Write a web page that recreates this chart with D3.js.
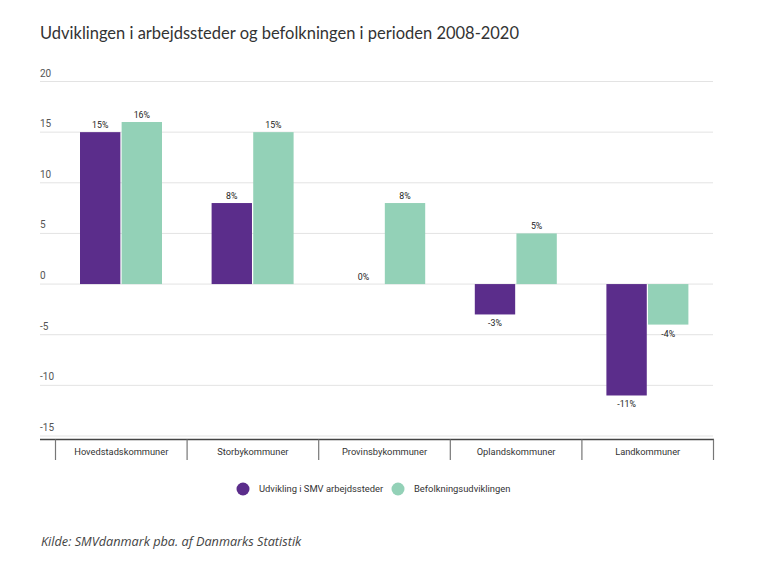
<!DOCTYPE html>
<html><head><meta charset="utf-8">
<script src="https://cdn.jsdelivr.net/npm/d3@7"></script>
<style>body{margin:0;background:#fff}</style>
</head><body>
<svg id="c" width="758" height="568"></svg>
<script>
const categories = ["Hovedstadskommuner","Storbykommuner","Provinsbykommuner","Oplandskommuner","Landkommuner"];
const smvValues = [15, 8, 0, -3, -11];
const befValues = [16, 15, 8, 5, -4];
const seriesNames = ["Udvikling i SMV arbejdssteder","Befolkningsudviklingen"];
const yTicks = [20, 15, 10, 5, 0, -5, -10, -15];

const svg = d3.select("#c");
const colors = ["#5b2d8b", "#93d1b7"];
const y = d3.scaleLinear().domain([-15, 20]).range([436, 81.5]);
const x = d3.scaleBand().domain(categories).range([55.5, 713.5]).paddingInner(0).paddingOuter(0);
const xs = d3.scaleBand().domain([0,1]).range([24.5, 106.5]).paddingInner(0.03);

svg.append("text").attr("x", 40).attr("y", 39).attr("font-family", "Lato, 'Open Sans', sans-serif")
  .attr("font-size", 17).attr("fill", "#333").attr("textLength", 479).attr("lengthAdjust","spacingAndGlyphs")
  .text("Udviklingen i arbejdssteder og befolkningen i perioden 2008-2020");

// grid
const g = svg.append("g");
g.selectAll("line.grid").data(yTicks).join("line")
  .attr("x1", 40).attr("x2", 713).attr("y1", d => y(d)).attr("y2", d => y(d))
  .attr("stroke", "#e3e3e3").attr("stroke-width", 1);
g.selectAll("text.tick").data(yTicks).join("text")
  .attr("x", 40).attr("y", d => y(d) - 5).attr("font-family", "Roboto, sans-serif")
  .attr("font-size", 10).attr("fill", "#555").text(d => d);

// bars
const series = [smvValues, befValues];
series.forEach((vals, si) => {
  svg.append("g").selectAll("rect").data(vals.map((v,i)=>({v, c: categories[i]}))).join("rect")
    .attr("x", d => x(d.c) + xs(si)).attr("width", xs.bandwidth())
    .attr("y", d => y(Math.max(0, d.v))).attr("height", d => Math.abs(y(d.v) - y(0)))
    .attr("fill", colors[si]);
  svg.append("g").selectAll("text").data(vals.map((v,i)=>({v, c: categories[i]}))).join("text")
    .attr("x", d => x(d.c) + xs(si) + xs.bandwidth()/2)
    .attr("y", d => d.v >= 0 ? y(d.v) - 4 : y(d.v) + 12)
    .attr("text-anchor", "middle").attr("font-family", "Roboto, sans-serif")
    .attr("font-size", 8.8).attr("fill", "#222").text(d => d.v + "%");
});

// bottom axis
const ax = svg.append("g");
ax.append("line").attr("x1", 40).attr("x2", 714).attr("y1", 439.5).attr("y2", 439.5)
  .attr("stroke", "#444").attr("stroke-width", 1.5);
const edges = categories.map(c => x(c)).concat([x.range()[1]]);
ax.selectAll("line.t").data(edges).join("line")
  .attr("x1", d => d).attr("x2", d => d).attr("y1", 439.5).attr("y2", 460)
  .attr("stroke", "#777").attr("stroke-width", 1.2);
ax.selectAll("text").data(categories).join("text")
  .attr("x", d => x(d) + x.bandwidth()/2).attr("y", 455).attr("text-anchor", "middle")
  .attr("font-family", "Roboto, sans-serif").attr("font-size", 9.3).attr("fill", "#333").text(d => d);

// legend
const lg = svg.append("g");
const lx = [243, 398];
seriesNames.forEach((n, i) => {
  lg.append("circle").attr("cx", lx[i]).attr("cy", 489).attr("r", 6.5).attr("fill", colors[i]);
  lg.append("text").attr("x", lx[i] + 16).attr("y", 492).attr("font-family", "Roboto, sans-serif")
    .attr("font-size", 9.4).attr("fill", "#333").text(n);
});

svg.append("text").attr("x", 41).attr("y", 546).attr("font-family", "'Open Sans', sans-serif")
  .attr("font-style", "italic").attr("font-size", 12.7).attr("fill", "#444")
  .text("Kilde: SMVdanmark pba. af Danmarks Statistik");
</script>
</body></html>
